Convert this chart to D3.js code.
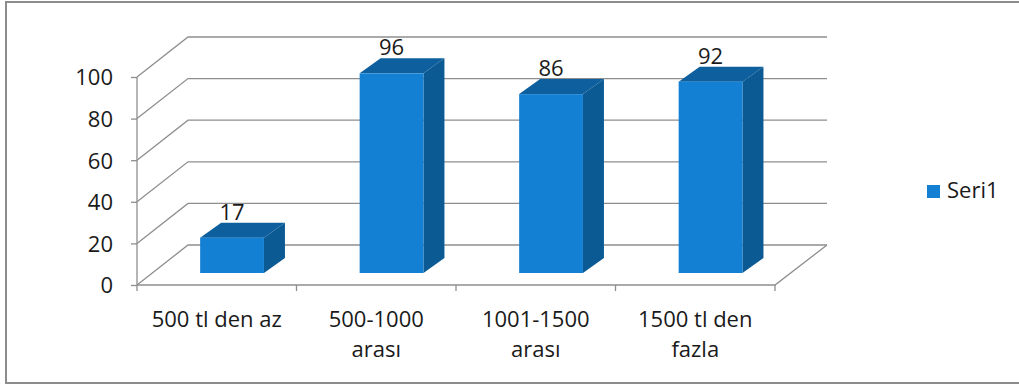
<!DOCTYPE html>
<html>
<head>
<meta charset="utf-8">
<script src="https://cdn.jsdelivr.net/npm/d3@7"></script>
<style>
	body { margin:0; background:#fff; }
	text { font-family:"Open Sans", sans-serif; font-size:22px; fill:#1a1a1a; }
</style>
</head>
<body>
<svg width="1019" height="385"></svg>
<script>
var categories = [["500 tl den az"], ["500-1000", "arası"], ["1001-1500", "arası"], ["1500 tl den", "fazla"]];
var values = [17, 96, 86, 92];
var yTicks = [0, 20, 40, 60, 80, 100];
var seriesName = "Seri1";

var svg = d3.select("svg");
var left = 137, right = 775, floorY = 285;
var depth = [51, -40];      // floor depth vector
var barDepth = [21, -15];   // box depth
var barOffset = 0.3;        // where box sits in the floor depth

var x = d3.scaleBand().domain(d3.range(categories.length)).range([left, right]).paddingInner(0).paddingOuter(0);
var y = d3.scaleLinear().domain([0, 100]).range([floorY, 77]);

// frame
svg.append("rect")
	.attr("x", 6).attr("y", 2)
	.attr("width", 1030).attr("height", 381)
	.attr("fill", "none").attr("stroke", "#8c8c8c").attr("stroke-width", 2);

// back wall + side gridlines
var grid = svg.append("g").attr("stroke", "#8e8e8e").attr("stroke-width", 1.3).attr("fill", "none");
yTicks.forEach(function(t){
	var yy = y(t);
	grid.append("polyline")
		.attr("points", [[left, yy], [left + depth[0], yy + depth[1]], [right + depth[0] + 1, yy + depth[1]]].join(" "));
});
// floor front edge + right diagonal
grid.append("polyline")
	.attr("points", [[left, floorY], [right, floorY], [right + depth[0] + 1, floorY + depth[1]]].join(" "));
// vertical axis
grid.append("line").attr("x1", left).attr("x2", left).attr("y1", y(100)).attr("y2", floorY);

// y axis
var yAxis = svg.append("g")
	.attr("transform", "translate(" + left + ",0)")
	.call(d3.axisLeft(y).tickValues(yTicks).tickSize(6).tickPadding(18));
yAxis.select(".domain").remove();
yAxis.selectAll("line").attr("stroke", "#8e8e8e").attr("stroke-width", 1.3);
yAxis.selectAll("text").attr("font-size", null).attr("font-family", null).attr("fill", null).attr("dy", "0.36em");

// category ticks
svg.append("g").selectAll("line")
	.data(d3.range(categories.length + 1))
	.enter().append("line")
	.attr("x1", function(i){ return left + i * x.bandwidth(); })
	.attr("x2", function(i){ return left + i * x.bandwidth(); })
	.attr("y1", floorY).attr("y2", floorY + 6)
	.attr("stroke", "#8e8e8e").attr("stroke-width", 1.3);

// category labels
var catLabels = svg.append("g").selectAll("text")
	.data(categories)
	.enter().append("text")
	.attr("text-anchor", "middle")
	.attr("x", function(d, i){ return x(i) + x.bandwidth() / 2; })
	.attr("y", 327);
catLabels.selectAll("tspan")
	.data(function(d){ return d; })
	.enter().append("tspan")
	.attr("x", function(){ return d3.select(this.parentNode).attr("x"); })
	.attr("dy", function(d, j){ return j ? 30 : 0; })
	.text(function(d){ return d; });

// bars (3d boxes)
var barW = x.bandwidth() * 0.4;
var bars = svg.append("g").selectAll("g")
	.data(values)
	.enter().append("g");

function fx(i){ return x(i) + x.bandwidth() * 0.3 + depth[0] * barOffset; }
function fyBase(){ return floorY + depth[1] * barOffset; }
function fyTop(v){ return y(v) + depth[1] * barOffset; }

bars.append("path") // side
	.attr("fill", "#0b5a93")
	.attr("d", function(v, i){
		var x1 = fx(i) + barW, yb = fyBase(), yt = fyTop(v);
		return "M" + [x1, yb] + "L" + [x1 + barDepth[0], yb + barDepth[1]] + "L" + [x1 + barDepth[0], yt + barDepth[1]] + "L" + [x1, yt] + "Z";
	});
bars.append("path") // top
	.attr("fill", "#0d5f9d")
	.attr("d", function(v, i){
		var x0 = fx(i), yt = fyTop(v);
		return "M" + [x0, yt] + "L" + [x0 + barDepth[0], yt + barDepth[1]] + "L" + [x0 + barW + barDepth[0], yt + barDepth[1]] + "L" + [x0 + barW, yt] + "Z";
	});
bars.append("rect") // front
	.attr("fill", "#1380d3")
	.attr("x", function(v, i){ return fx(i); })
	.attr("y", function(v){ return fyTop(v); })
	.attr("width", barW)
	.attr("height", function(v){ return fyBase() - fyTop(v); });

bars.append("text")
	.attr("text-anchor", "middle")
	.attr("x", function(v, i){ return fx(i) + barW / 2; })
	.attr("y", function(v){ return fyTop(v) + barDepth[1] - 3; })
	.text(function(v){ return v; });

// legend
var legend = svg.append("g").attr("transform", "translate(927,185)");
legend.append("rect").attr("width", 13).attr("height", 13).attr("fill", "#1380d3");
legend.append("text").attr("x", 20).attr("y", 13).text(seriesName);
</script>
</body>
</html>
